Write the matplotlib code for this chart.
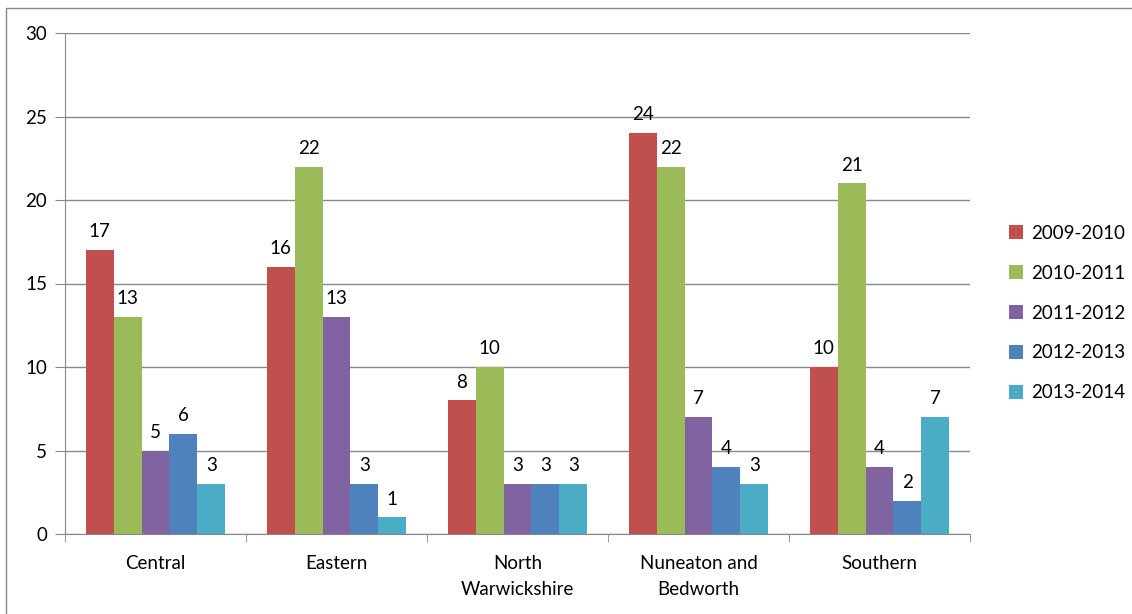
import matplotlib.pyplot as plt
import numpy as np
from matplotlib.patches import Rectangle

plt.rcParams['font.family'] = ['Lato', 'DejaVu Sans']

areas = ['Central', 'Eastern', 'North\nWarwickshire', 'Nuneaton and\nBedworth', 'Southern']
years = ['2009-2010', '2010-2011', '2011-2012', '2012-2013', '2013-2014']
v0910 = [17, 16, 8, 24, 10]
v1011 = [13, 22, 10, 22, 21]
v1112 = [5, 13, 3, 7, 4]
v1213 = [6, 3, 3, 4, 2]
v1314 = [3, 1, 3, 3, 7]
series = [v0910, v1011, v1112, v1213, v1314]
colors = ['#C0504D', '#9BBB59', '#8064A2', '#4F81BD', '#4BACC6']

W, H = 1132, 614
fs = 13.5
fig = plt.figure(figsize=(W / 100, H / 100), dpi=100)
ax = fig.add_axes([65 / W, 1 - 534 / H, (970 - 65) / W, (534 - 33) / H])

x = np.arange(len(areas))
bw = 0.154
for i, (vals, c, lab) in enumerate(zip(series, colors, years)):
    pos = x + (i - 2) * bw
    bars = ax.bar(pos, vals, width=bw, color=c, label=lab, zorder=2)
    for b, v in zip(bars, vals):
        ax.annotate(str(v), (b.get_x() + b.get_width() / 2, v), xytext=(0, 7),
                    textcoords='offset points', ha='center', va='bottom', fontsize=fs)

ax.set_xlim(-0.5, len(areas) - 0.5)
ax.set_ylim(0, 30)
ax.set_yticks(range(0, 31, 5))
ax.yaxis.grid(True, color='#888888', linewidth=1, zorder=0)
ax.set_axisbelow(True)
ax.set_xticks(x)
ax.set_xticklabels(areas, fontsize=fs, linespacing=1.65)
ax.set_xticks(np.arange(-0.5, len(areas)), minor=True)
ax.tick_params(axis='x', which='major', length=0, pad=15)
ax.tick_params(axis='x', which='minor', length=6, color='#888888')
ax.tick_params(axis='y', length=7, color='#888888', labelsize=fs, pad=6)
for s in ['top', 'right']:
    ax.spines[s].set_visible(False)
for s in ['left', 'bottom']:
    ax.spines[s].set_color('#888888')

ax.legend(loc='center left', bbox_to_anchor=(1.024, 0.441), frameon=False, fontsize=fs,
          handlelength=0.75, handleheight=0.75, labelspacing=1.22, handletextpad=0.45)

fig.patches.append(Rectangle((6 / W, -0.1), 1.2, 1 - 8 / H + 0.1, transform=fig.transFigure,
                             fill=False, edgecolor='#888888', linewidth=1))

fig.savefig('out.png', dpi=100)
